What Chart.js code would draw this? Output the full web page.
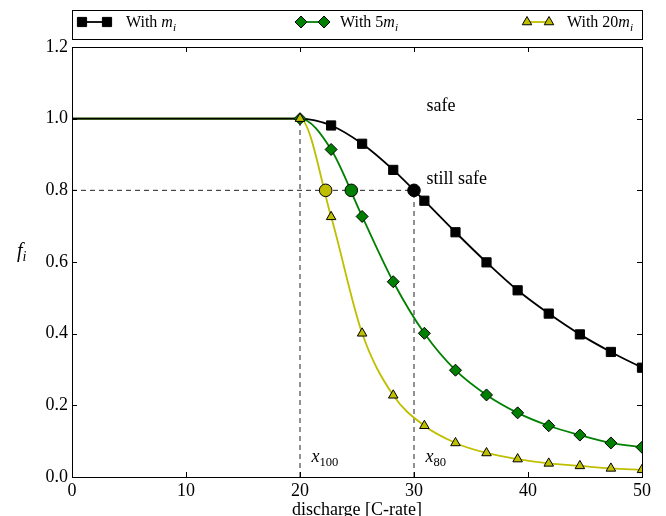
<!DOCTYPE html>
<html>
<head>
<meta charset="utf-8">
<script src="https://cdn.jsdelivr.net/npm/chart.js@4.4.1/dist/chart.umd.min.js"></script>
<style>
    html, body { margin: 0; padding: 0; background: #fff; }
    #wrap { width: 666px; height: 516px; }
</style>
</head>
<body>
<div id="wrap"><canvas id="graficoFi" width="666" height="516"></canvas></div>
<script>
// valores
const markX = [20, 22.73, 25.45, 28.18, 30.91, 33.64, 36.36, 39.09, 41.82, 44.55, 47.27, 50];
const fM = [1.0, 0.981, 0.930, 0.857, 0.771, 0.683, 0.599, 0.521, 0.456, 0.398, 0.349, 0.305];
const f5M = [1.0, 0.914, 0.727, 0.545, 0.401, 0.298, 0.229, 0.179, 0.143, 0.117, 0.095, 0.083];
const f20M = [1.0, 0.726, 0.401, 0.228, 0.143, 0.095, 0.067, 0.050, 0.038, 0.031, 0.024, 0.020];
const flatX = [0, 20];          // f = 1 antes de x100
const crossX = [30, 24.5, 22.25]; // onde cada curva passa por 0.8
const crossLevel = 0.8;
const x100 = 20;
const x80 = 30;
const xTicks = [0, 10, 20, 30, 40, 50];
const yTicks = [0, 0.2, 0.4, 0.6, 0.8, 1.0, 1.2];

const FONTE = '"Liberation Serif", "Times New Roman", serif';
const PRETO = '#000000';
const VERDE = '#008000';
const AMARELO = '#bfbf00';

function pontos(xs, ys) {
    return xs.map((x, i) => ({ x: x, y: ys[i] }));
}
function curva(ys) {
    return pontos(flatX, [1, 1]).concat(pontos(markX.slice(1), ys.slice(1)));
}

// marcadores (desenhados por cima)
const dsMarcadores = [
    { data: pontos(markX, f20M), pointStyle: 'triangle', pointRadius: 5.5, backgroundColor: AMARELO },
    { data: pontos(markX, f5M), pointStyle: 'rectRot', pointRadius: 6, backgroundColor: VERDE },
    { data: pontos(markX.slice(1), fM.slice(1)), pointStyle: 'rect', pointRadius: 6.5, backgroundColor: PRETO }
].map(d => Object.assign(d, { showLine: false, borderColor: PRETO, pointBorderWidth: 1, pointHoverRadius: d.pointRadius }));

const dsCruzamentos = [{
    data: crossX.map(x => ({ x: x, y: crossLevel })),
    showLine: false,
    pointStyle: 'circle',
    pointRadius: 6.3,
    backgroundColor: [PRETO, VERDE, AMARELO],
    borderColor: PRETO,
    pointBorderWidth: 1
}];

const dsLinhas = [
    { data: curva(fM), borderColor: PRETO },
    { data: curva(f5M), borderColor: VERDE },
    { data: curva(f20M), borderColor: AMARELO }
].map(d => Object.assign(d, { showLine: true, pointRadius: 0, borderWidth: 1.8, cubicInterpolationMode: 'monotone' }));

const dsTracejadas = [
    [{ x: 0, y: crossLevel }, { x: x80, y: crossLevel }],
    [{ x: x100, y: 0 }, { x: x100, y: 1 }],
    [{ x: x80, y: 0 }, { x: x80, y: crossLevel }]
].map(d => ({ data: d, showLine: true, pointRadius: 0, borderColor: '#222', borderWidth: 1, borderDash: [5, 4] }));

// texto com itálico e subscrito
function textoRico(ctx, partes, x, y, tam) {
    let cx = x;
    partes.forEach(p => {
        const s = p.sub ? tam * 0.7 : tam;
        ctx.font = (p.it ? 'italic ' : '') + s + 'px ' + FONTE;
        ctx.fillText(p.t, cx, y + (p.sub ? tam * 0.22 : 0));
        cx += ctx.measureText(p.t).width;
    });
}

function marcador(ctx, estilo, raio, cor, x, y) {
    ctx.save();
    ctx.fillStyle = cor;
    ctx.strokeStyle = PRETO;
    ctx.lineWidth = 1;
    Chart.helpers.drawPoint(ctx, { pointStyle: estilo, radius: raio, borderWidth: 1, rotation: 0 }, x, y);
    ctx.restore();
}

const pluginMoldura = {
    id: 'moldura',
    afterDatasetsDraw(chart) {
        const ctx = chart.ctx;
        const a = chart.chartArea;
        const sx = chart.scales.x;
        const sy = chart.scales.y;
        ctx.save();
        ctx.strokeStyle = PRETO;
        ctx.lineWidth = 1;
        ctx.strokeRect(Math.round(a.left) + 0.5, Math.round(a.top) + 0.5, Math.round(a.right - a.left), Math.round(a.bottom - a.top));

        // ticks para dentro
        ctx.beginPath();
        xTicks.forEach(v => {
            const px = Math.round(sx.getPixelForValue(v)) + 0.5;
            ctx.moveTo(px, a.bottom); ctx.lineTo(px, a.bottom - 5);
            ctx.moveTo(px, a.top); ctx.lineTo(px, a.top + 5);
        });
        yTicks.forEach(v => {
            const py = Math.round(sy.getPixelForValue(v)) + 0.5;
            ctx.moveTo(a.left, py); ctx.lineTo(a.left + 5, py);
            ctx.moveTo(a.right, py); ctx.lineTo(a.right - 5, py);
        });
        ctx.stroke();

        // anotações
        ctx.fillStyle = PRETO;
        ctx.textBaseline = 'alphabetic';
        ctx.textAlign = 'left';
        ctx.font = '18px ' + FONTE;
        ctx.fillText('safe', sx.getPixelForValue(31.1), sy.getPixelForValue(1.021));
        ctx.fillText('still safe', sx.getPixelForValue(31.1), sy.getPixelForValue(0.819));
        textoRico(ctx, [{ t: 'x', it: true }, { t: '100', sub: true }], sx.getPixelForValue(21.0), sy.getPixelForValue(0.042), 18);
        textoRico(ctx, [{ t: 'x', it: true }, { t: '80', sub: true }], sx.getPixelForValue(31.0), sy.getPixelForValue(0.042), 18);

        // rótulo do eixo y
        textoRico(ctx, [{ t: 'f', it: true }, { t: 'i', it: true, sub: true }], 17, 257, 20);

        // legenda
        const lx = Math.round(a.left) + 0.5, ly = 10.5, lw = Math.round(a.right - a.left), lh = 29;
        ctx.fillStyle = '#fff';
        ctx.fillRect(lx, ly, lw, lh);
        ctx.strokeStyle = PRETO;
        ctx.strokeRect(lx, ly, lw, lh);
        const itens = [
            { x1: 82, x2: 107, cor: PRETO, estilo: 'rect', raio: 6.5, tx: 126, partes: [{ t: 'With ' }, { t: 'm', it: true }, { t: 'i', it: true, sub: true }] },
            { x1: 301, x2: 324, cor: VERDE, estilo: 'rectRot', raio: 6, tx: 340, partes: [{ t: 'With 5' }, { t: 'm', it: true }, { t: 'i', it: true, sub: true }] },
            { x1: 527, x2: 549, cor: AMARELO, estilo: 'triangle', raio: 5.5, tx: 567, partes: [{ t: 'With 20' }, { t: 'm', it: true }, { t: 'i', it: true, sub: true }] }
        ];
        const my = 22;
        itens.forEach(it => {
            ctx.strokeStyle = it.cor;
            ctx.lineWidth = 1.8;
            ctx.beginPath();
            ctx.moveTo(it.x1, my); ctx.lineTo(it.x2, my);
            ctx.stroke();
            marcador(ctx, it.estilo, it.raio, it.cor, it.x1, my);
            marcador(ctx, it.estilo, it.raio, it.cor, it.x2, my);
            ctx.fillStyle = PRETO;
            textoRico(ctx, it.partes, it.tx, 27, 16);
        });
        ctx.restore();
    }
};

Chart.defaults.font.family = FONTE;
Chart.defaults.font.size = 18;
Chart.defaults.color = PRETO;

new Chart(document.getElementById('graficoFi'), {
    type: 'scatter',
    data: { datasets: dsMarcadores.concat(dsCruzamentos, dsLinhas, dsTracejadas) },
    options: {
        responsive: false,
        animation: false,
        devicePixelRatio: 1,
        layout: { padding: { top: 47, right: 24, bottom: 0, left: 0 } },
        plugins: { legend: { display: false }, tooltip: { enabled: false } },
        scales: {
            x: {
                type: 'linear', min: 0, max: 50,
                afterBuildTicks: s => { s.ticks = xTicks.map(v => ({ value: v })); },
                ticks: { padding: 3, color: PRETO, font: { size: 18 } },
                grid: { display: false, drawTicks: false },
                border: { display: false },
                title: { display: true, text: 'discharge [C-rate]', color: PRETO, font: { size: 18, lineHeight: 1 }, padding: { top: 0, bottom: -3 } },
                afterFit: s => { s.height = 39; }
            },
            y: {
                type: 'linear', min: 0, max: 1.2,
                afterBuildTicks: s => { s.ticks = yTicks.map(v => ({ value: v })); },
                ticks: { padding: 4, color: PRETO, font: { size: 18 }, callback: v => Number(v).toFixed(1) },
                grid: { display: false, drawTicks: false },
                border: { display: false },
                afterFit: s => { s.width = 72; }
            }
        }
    },
    plugins: [pluginMoldura]
});
</script>
</body>
</html>
